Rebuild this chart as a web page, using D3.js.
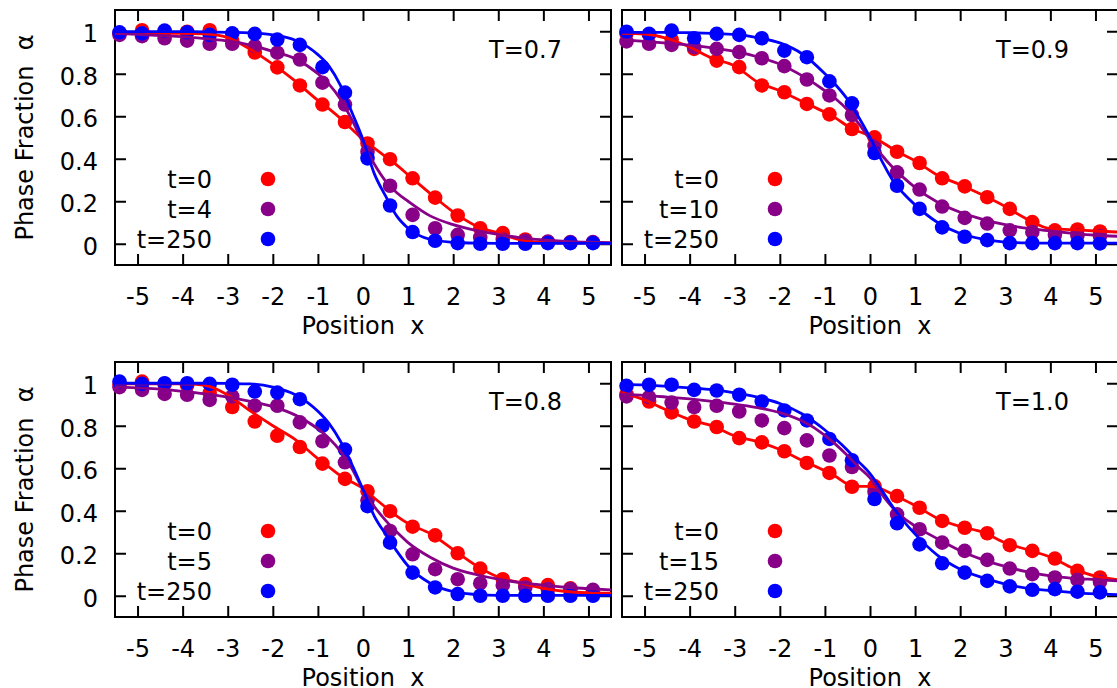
<!DOCTYPE html>
<html>
<head>
<meta charset="utf-8">
<script src="https://cdn.jsdelivr.net/npm/d3@7"></script>
<style>
  body { margin: 0; background: #fff; }
  text { font-family: "DejaVu Sans", sans-serif; font-size: 24px; fill: #000; white-space: pre; }
</style>
</head>
<body>
<div id="wrapper"></div>
<script>
// positions of the simulation samples and of the fitted curves
const xPoints = [-5.4, -4.9, -4.4, -3.9, -3.4, -2.9, -2.4, -1.9, -1.4, -0.9, -0.4,
                 0.1, 0.6, 1.1, 1.6, 2.1, 2.6, 3.1, 3.6, 4.1, 4.6, 5.1];
const xCurve = [-5.5, -5, -4.5, -4, -3.5, -3, -2.5, -2, -1.5, -1, -0.75, -0.5, -0.25,
                0, 0.25, 0.5, 0.75, 1, 1.5, 2, 2.5, 3, 3.5, 4, 4.5, 5, 5.5];

const xTicks = [-5, -4, -3, -2, -1, 0, 1, 2, 3, 4, 5];
const xTickLabels = ["-5", "-4", "-3", "-2", "-1", "0", "1", "2", "3", "4", "5"];
const yTicks = [0, 0.2, 0.4, 0.6, 0.8, 1];
const yTickLabels = ["0", "0.2", "0.4", "0.6", "0.8", "1"];

const temperatures = ["T=0.7", "T=0.9", "T=0.8", "T=1.0"];
const timeLabels = [["t=0", "t=4", "t=250"], ["t=0", "t=10", "t=250"],
                    ["t=0", "t=5", "t=250"], ["t=0", "t=15", "t=250"]];
const seriesColors = ["#ff0000", "#880088", "#0000ff"];

// T=0.7
const dotsT07_start = [0.99, 1.005, 1.0, 0.998, 1.005, 0.955, 0.90, 0.83, 0.745, 0.655, 0.573, 0.472, 0.398, 0.308, 0.217, 0.133, 0.073, 0.05, 0.02, 0.008, 0.005, 0.005];
const dotsT07_mid   = [0.983, 0.977, 0.967, 0.956, 0.941, 0.941, 0.93, 0.899, 0.867, 0.758, 0.655, 0.433, 0.273, 0.136, 0.073, 0.042, 0.03, 0.02, 0.014, 0.01, 0.008, 0.008];
const dotsT07_end   = [0.995, 0.99, 1.003, 0.995, 0.983, 0.99, 0.988, 0.961, 0.936, 0.831, 0.711, 0.402, 0.18, 0.055, 0.014, 0.003, 0.0, 0.0, 0.0, 0.003, 0.003, 0.003];
const fitT07_start  = [0.99, 0.99, 0.99, 0.99, 0.988, 0.97, 0.915, 0.845, 0.765, 0.675, 0.635, 0.59, 0.54, 0.49, 0.45, 0.41, 0.37, 0.325, 0.235, 0.15, 0.085, 0.05, 0.018, 0.005, 0.003, 0.003, 0.003];
const fitT07_mid    = [0.99, 0.985, 0.98, 0.975, 0.965, 0.955, 0.935, 0.905, 0.87, 0.80, 0.75, 0.68, 0.585, 0.475, 0.375, 0.295, 0.24, 0.2, 0.13, 0.09, 0.063, 0.044, 0.028, 0.018, 0.011, 0.007, 0.005];
const fitT07_end    = [0.998, 0.998, 0.998, 0.998, 0.997, 0.995, 0.992, 0.983, 0.958, 0.89, 0.835, 0.745, 0.62, 0.49, 0.33, 0.225, 0.13, 0.073, 0.02, 0.007, 0.003, 0.002, 0.002, 0.002, 0.002, 0.002, 0.002];

// T=0.9
const dotsT09_start = [0.99, 0.985, 0.961, 0.917, 0.862, 0.831, 0.745, 0.713, 0.658, 0.609, 0.54, 0.501, 0.433, 0.38, 0.308, 0.27, 0.219, 0.164, 0.102, 0.063, 0.067, 0.058];
const dotsT09_mid   = [0.952, 0.941, 0.936, 0.925, 0.917, 0.902, 0.873, 0.836, 0.773, 0.698, 0.606, 0.462, 0.336, 0.255, 0.175, 0.122, 0.095, 0.063, 0.055, 0.042, 0.039, 0.036];
const dotsT09_end   = [0.998, 0.988, 1.003, 0.967, 0.988, 0.983, 0.967, 0.909, 0.878, 0.764, 0.661, 0.427, 0.273, 0.164, 0.077, 0.033, 0.017, 0.003, 0.003, 0.003, 0.003, 0.002];
const fitT09_start  = [0.99, 0.987, 0.966, 0.926, 0.873, 0.837, 0.762, 0.72, 0.669, 0.619, 0.59, 0.554, 0.528, 0.509, 0.48, 0.447, 0.418, 0.39, 0.322, 0.278, 0.229, 0.175, 0.114, 0.071, 0.066, 0.06, 0.055];
const fitT09_mid    = [0.96, 0.952, 0.944, 0.935, 0.922, 0.905, 0.88, 0.845, 0.79, 0.72, 0.68, 0.63, 0.565, 0.49, 0.42, 0.36, 0.31, 0.265, 0.195, 0.148, 0.115, 0.09, 0.072, 0.06, 0.049, 0.04, 0.035];
const fitT09_end    = [0.995, 0.995, 0.995, 0.993, 0.99, 0.985, 0.97, 0.945, 0.893, 0.80, 0.745, 0.68, 0.595, 0.50, 0.395, 0.30, 0.235, 0.183, 0.10, 0.048, 0.022, 0.008, 0.004, 0.003, 0.003, 0.003, 0.003];

// T=0.8
const dotsT08_start = [0.993, 1.008, 0.997, 0.99, 0.955, 0.888, 0.82, 0.753, 0.70, 0.622, 0.55, 0.492, 0.398, 0.325, 0.284, 0.2, 0.128, 0.078, 0.055, 0.05, 0.035, 0.02];
const dotsT08_mid   = [0.982, 0.969, 0.95, 0.946, 0.922, 0.938, 0.894, 0.894, 0.816, 0.727, 0.628, 0.45, 0.305, 0.195, 0.125, 0.078, 0.059, 0.05, 0.039, 0.031, 0.031, 0.028];
const dotsT08_end   = [1.008, 0.997, 1.0, 1.0, 0.997, 0.993, 0.961, 0.956, 0.925, 0.80, 0.688, 0.422, 0.25, 0.109, 0.039, 0.008, 0.0, 0.0, 0.0, 0.0, 0.0, 0.0];
const fitT08_start  = [0.997, 0.997, 0.997, 0.997, 0.99, 0.945, 0.87, 0.80, 0.735, 0.645, 0.605, 0.565, 0.535, 0.505, 0.46, 0.417, 0.375, 0.34, 0.292, 0.217, 0.143, 0.088, 0.06, 0.035, 0.02, 0.014, 0.012];
const fitT08_mid    = [0.983, 0.978, 0.972, 0.962, 0.95, 0.935, 0.915, 0.89, 0.85, 0.785, 0.74, 0.68, 0.60, 0.50, 0.42, 0.355, 0.30, 0.25, 0.18, 0.13, 0.10, 0.078, 0.062, 0.05, 0.04, 0.033, 0.028];
const fitT08_end    = [1.0, 1.0, 1.0, 1.0, 1.0, 0.999, 0.997, 0.982, 0.946, 0.868, 0.81, 0.727, 0.62, 0.50, 0.375, 0.29, 0.21, 0.14, 0.058, 0.019, 0.006, 0.002, 0.002, 0.002, 0.002, 0.002, 0.002];

// T=1.0
const dotsT10_start = [0.948, 0.914, 0.863, 0.82, 0.794, 0.742, 0.722, 0.68, 0.625, 0.578, 0.513, 0.516, 0.469, 0.414, 0.352, 0.32, 0.294, 0.238, 0.211, 0.175, 0.117, 0.086];
const dotsT10_mid   = [0.938, 0.935, 0.909, 0.888, 0.894, 0.867, 0.825, 0.789, 0.731, 0.66, 0.606, 0.49, 0.383, 0.313, 0.25, 0.211, 0.169, 0.128, 0.102, 0.086, 0.075, 0.066];
const dotsT10_end   = [0.988, 0.993, 0.993, 0.969, 0.966, 0.946, 0.914, 0.872, 0.825, 0.738, 0.638, 0.455, 0.341, 0.242, 0.153, 0.109, 0.070, 0.044, 0.028, 0.031, 0.019, 0.016];
const fitT10_start  = [0.957, 0.921, 0.873, 0.829, 0.799, 0.752, 0.726, 0.688, 0.636, 0.588, 0.56, 0.526, 0.515, 0.515, 0.503, 0.478, 0.452, 0.425, 0.364, 0.326, 0.299, 0.249, 0.216, 0.182, 0.129, 0.092, 0.075];
const fitT10_mid    = [0.948, 0.943, 0.935, 0.926, 0.915, 0.902, 0.885, 0.862, 0.822, 0.755, 0.71, 0.66, 0.605, 0.555, 0.48, 0.415, 0.365, 0.328, 0.268, 0.212, 0.17, 0.138, 0.112, 0.093, 0.082, 0.076, 0.07];
const fitT10_end    = [0.995, 0.992, 0.985, 0.978, 0.97, 0.955, 0.935, 0.905, 0.855, 0.78, 0.735, 0.685, 0.63, 0.575, 0.50, 0.42, 0.35, 0.29, 0.19, 0.125, 0.085, 0.055, 0.035, 0.024, 0.015, 0.009, 0.005];

const panels = [
  {title: temperatures[0], labels: timeLabels[0], dots: [dotsT07_start, dotsT07_mid, dotsT07_end], fits: [fitT07_start, fitT07_mid, fitT07_end]},
  {title: temperatures[1], labels: timeLabels[1], dots: [dotsT09_start, dotsT09_mid, dotsT09_end], fits: [fitT09_start, fitT09_mid, fitT09_end]},
  {title: temperatures[2], labels: timeLabels[2], dots: [dotsT08_start, dotsT08_mid, dotsT08_end], fits: [fitT08_start, fitT08_mid, fitT08_end]},
  {title: temperatures[3], labels: timeLabels[3], dots: [dotsT10_start, dotsT10_mid, dotsT10_end], fits: [fitT10_start, fitT10_mid, fitT10_end]}
];

const dimensions = {
  width: 1117,
  height: 688,
  panelWidth: 496,
  panelHeight: 255
};
// top-left corner of every frame (multiplot layout)
const origins = [[115, 10], [622, 10], [115, 362], [622, 362]];

const svg = d3.select("#wrapper").append("svg")
  .attr("width", dimensions.width)
  .attr("height", dimensions.height);

svg.append("rect")
  .attr("width", dimensions.width)
  .attr("height", dimensions.height)
  .attr("fill", "#fff");

panels.forEach((panel, i) => {
  const [x0, y0] = origins[i];
  const w = dimensions.panelWidth, h = dimensions.panelHeight;
  const leftColumn = i % 2 === 0;

  const xScale = d3.scaleLinear().domain([-5.5, 5.5]).range([x0, x0 + w]);
  const yScale = d3.scaleLinear().domain([-0.1, 1.1]).range([y0 + h, y0]);

  const g = svg.append("g");

  // frame
  g.append("rect")
    .attr("x", x0).attr("y", y0)
    .attr("width", w).attr("height", h)
    .attr("fill", "none")
    .attr("stroke", "#000")
    .attr("stroke-width", 2);

  // ticks on all four sides, pointing inwards
  const bottom = g.append("g")
    .attr("transform", `translate(0,${y0 + h})`)
    .call(d3.axisBottom(xScale).tickValues(xTicks).tickSize(-11)
      .tickFormat((d, k) => xTickLabels[k]));
  const top = g.append("g")
    .attr("transform", `translate(0,${y0})`)
    .call(d3.axisTop(xScale).tickValues(xTicks).tickSize(-11).tickFormat(""));
  const left = g.append("g")
    .attr("transform", `translate(${x0},0)`)
    .call(d3.axisLeft(yScale).tickValues(yTicks).tickSize(-11).tickPadding(17)
      .tickFormat((d, k) => leftColumn ? yTickLabels[k] : ""));
  const right = g.append("g")
    .attr("transform", `translate(${x0 + w},0)`)
    .call(d3.axisRight(yScale).tickValues(yTicks).tickSize(-11).tickFormat(""));

  [bottom, top, left, right].forEach(ax => {
    ax.select(".domain").remove();
    ax.attr("font-size", null).attr("font-family", null);
    ax.selectAll(".tick line").attr("stroke", "#000").attr("stroke-width", 2);
  });
  bottom.selectAll(".tick text").attr("y", 40).attr("dy", null);
  left.selectAll(".tick text").attr("dy", "0.44em");

  // axis titles
  g.append("text")
    .attr("x", x0 + w / 2)
    .attr("y", y0 + h + 69)
    .attr("text-anchor", "middle")
    .text("Position  x");

  if (leftColumn) {
    g.append("text")
      .attr("transform", `translate(33,${y0 + 127.5}) rotate(-90)`)
      .attr("text-anchor", "middle")
      .text("Phase Fraction  α");
  }

  // data points
  panel.dots.forEach((vals, s) => {
    g.selectAll(null)
      .data(vals)
      .join("circle")
      .attr("cx", (d, k) => xScale(xPoints[k]))
      .attr("cy", d => yScale(d))
      .attr("r", 7.3)
      .attr("fill", seriesColors[s]);
  });

  // fitted curves
  const line = d3.line()
    .x((d, k) => xScale(xCurve[k]))
    .y(d => yScale(d))
    .curve(d3.curveMonotoneX);

  panel.fits.forEach((vals, s) => {
    g.append("path")
      .datum(vals)
      .attr("d", line)
      .attr("fill", "none")
      .attr("stroke", seriesColors[s])
      .attr("stroke-width", 2.8);
  });

  // key
  panel.labels.forEach((lab, s) => {
    const ky = y0 + 169 + s * 30;
    g.append("text")
      .attr("x", x0 + 97)
      .attr("y", ky + 8.5)
      .attr("text-anchor", "end")
      .text(lab);
    g.append("circle")
      .attr("cx", x0 + 153)
      .attr("cy", ky)
      .attr("r", 7.3)
      .attr("fill", seriesColors[s]);
  });

  // temperature label
  g.append("text")
    .attr("x", x0 + 447)
    .attr("y", y0 + 48)
    .attr("text-anchor", "end")
    .text(panel.title);
});
</script>
</body>
</html>
